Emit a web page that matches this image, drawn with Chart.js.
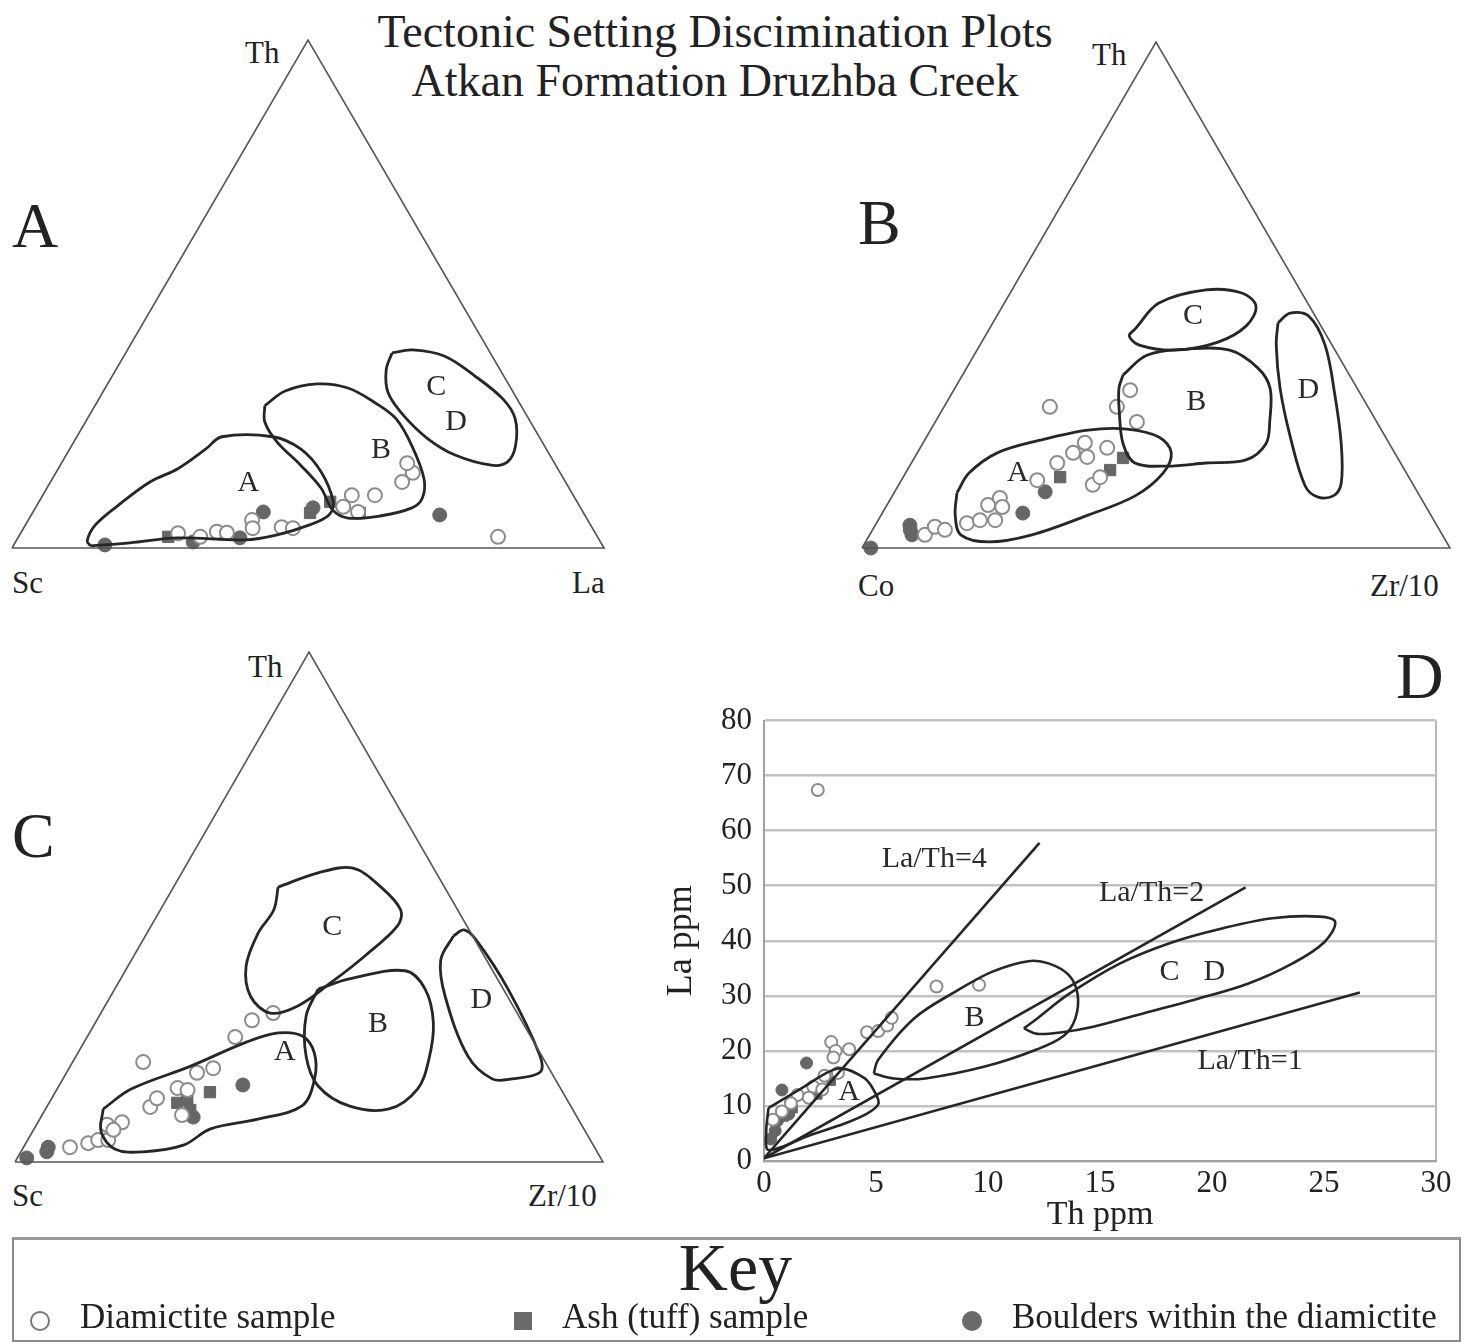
<!DOCTYPE html>
<html>
<head>
<meta charset="utf-8">
<script src="https://cdn.jsdelivr.net/npm/chart.js@4.4.1/dist/chart.umd.min.js"></script>
<style>
  body { margin: 0; background: #fff; width: 1471px; height: 1343px; position: relative; overflow: hidden;
         font-family: "Liberation Serif", "DejaVu Serif", serif; color: #222; }
  .t { position: absolute; line-height: 1; white-space: nowrap; }
  canvas { position: absolute; }
  .key { position: absolute; left: 12px; top: 1237px; width: 1445px; height: 100px;
         border: 2px solid #8a8a8a; border-top: 3px solid #9a9a9a; }
  .mk { position: absolute; box-sizing: border-box; }
</style>
</head>
<body>
<div class="t" style="left:0;width:1430px;text-align:center;top:9px;font-size:46px">Tectonic Setting Discimination Plots</div>
<div class="t" style="left:0;width:1430px;text-align:center;top:58px;font-size:46px">Atkan Formation Druzhba Creek</div>

<div class="t" style="left:12px;top:194px;font-size:64px">A</div>
<div class="t" style="left:858px;top:191px;font-size:64px">B</div>
<div class="t" style="left:12px;top:804px;font-size:64px">C</div>
<div class="t" style="left:1396px;top:643px;font-size:66px">D</div>

<div class="t" style="left:245px;top:37px;font-size:31px">Th</div>
<div class="t" style="left:12px;top:567px;font-size:31px">Sc</div>
<div class="t" style="left:572px;top:567px;font-size:31px">La</div>

<div class="t" style="left:1092px;top:39px;font-size:31px">Th</div>
<div class="t" style="left:858px;top:570px;font-size:31px">Co</div>
<div class="t" style="left:1370px;top:570px;font-size:31px">Zr/10</div>

<div class="t" style="left:248px;top:651px;font-size:31px">Th</div>
<div class="t" style="left:12px;top:1180px;font-size:31px">Sc</div>
<div class="t" style="left:528px;top:1180px;font-size:31px">Zr/10</div>

<canvas id="triA" width="616" height="532" style="left:0;top:28px"></canvas>
<canvas id="triB" width="612" height="530" style="left:850px;top:30px"></canvas>
<canvas id="triC" width="612" height="534" style="left:3px;top:640px"></canvas>
<canvas id="plotD" width="800" height="545" style="left:660px;top:690px"></canvas>

<div class="key"></div>
<div class="t" style="left:0;width:1471px;text-align:center;top:1233px;font-size:68px">Key</div>
<div class="mk" style="left:30px;top:1311px;width:20px;height:20px;border:2px solid #777;border-radius:50%"></div>
<div class="t" style="left:80px;top:1299px;font-size:35px">Diamictite sample</div>
<div class="mk" style="left:514px;top:1312px;width:18px;height:18px;background:#6a6a6a"></div>
<div class="t" style="left:562px;top:1299px;font-size:35px">Ash (tuff) sample</div>
<div class="mk" style="left:962px;top:1311px;width:20px;height:20px;background:#6a6a6a;border-radius:50%"></div>
<div class="t" style="left:1012px;top:1299px;font-size:35px">Boulders within the diamictite</div>

<script>
// ---- Panel A: Th - Sc - La ternary, pairs are [Th, La] in %, Sc = 100 - Th - La
const A_DIAMICTITE = [[2.9, 26.6], [2.2, 30.7], [3.2, 33.0], [3.0, 34.8], [5.5, 37.8], [3.9, 38.7],
  [4.1, 43.5], [3.9, 45.5], [8.1, 51.9], [10.4, 52.2], [7.1, 54.9], [10.4, 56.1], [13.0, 59.4],
  [14.8, 60.3], [16.7, 58.4], [2.2, 81.0]];
const A_ASH = [[2.2, 25.3], [6.9, 46.9], [9.1, 49.2], [6.9, 55.3]];
const A_BOULDER = [[0.6, 15.4], [1.2, 30.0], [2.0, 37.5], [7.1, 38.9], [7.9, 46.9], [6.5, 69.0]];

const A_FIELD_A = [[0.4, 13.1], [1.4, 12.0], [4.5, 11.8], [8.5, 13.8], [13.0, 16.8], [15.6, 20.2],
  [19.5, 23.0], [21.9, 24.5], [21.9, 33.1], [19.5, 39.0], [15.0, 44.7], [9.1, 49.7], [6.5, 50.3],
  [4.5, 47.9], [2.6, 43.5], [1.6, 38.6], [2.0, 27.0], [1.0, 19.4]];
const A_FIELD_B = [[28.0, 28.7], [30.9, 30.7], [32.3, 35.4], [31.5, 41.0], [28.5, 47.2], [25.4, 52.2],
  [20.1, 57.5], [13.6, 62.8], [9.8, 64.4], [7.9, 63.6], [6.3, 59.0], [5.9, 53.8], [7.5, 50.4],
  [11.8, 46.3], [16.3, 40.6], [20.9, 34.3], [24.8, 30.3]];
const A_FIELD_CD = [[38.4, 45.0], [39.0, 48.1], [37.8, 54.1], [33.9, 61.2], [29.3, 68.3], [25.4, 72.3],
  [20.1, 75.0], [16.9, 75.2], [16.3, 72.8], [18.3, 65.7], [21.5, 59.5], [26.0, 53.2], [30.5, 48.3],
  [35.0, 45.7]];
const A_LABELS = [["A", 12.8, 33.5], ["B", 19.3, 52.7], ["C", 31.7, 55.8], ["D", 24.8, 62.6]];

// ---- Panel B: Th - Co - Zr/10 ternary, pairs are [Th, Zr/10]
const B_DIAMICTITE = [[2.6, 9.4], [4.2, 10.3], [3.6, 12.3], [4.9, 15.4], [5.5, 17.3], [5.5, 19.9],
  [8.5, 17.2], [9.9, 18.5], [8.1, 19.8], [13.4, 23.1], [16.8, 24.8], [18.8, 26.5], [20.8, 27.5],
  [18.0, 29.3], [12.5, 33.0], [14.0, 33.5], [19.8, 31.8], [24.9, 34.3], [27.9, 29.4], [31.2, 30.0],
  [27.9, 18.0]];
const B_ASH = [[14.0, 26.7], [15.4, 34.5], [17.8, 35.5]];
const B_BOULDER = [[0, 1.5], [4.5, 5.9], [2.6, 7.2], [3.6, 6.4], [6.9, 23.9], [11.1, 25.6]];

const B_FIELD_A = [[10.9, 10.7], [14.8, 10.8], [18.8, 13.6], [21.3, 19.6], [23.3, 26.8], [23.5, 33.3],
  [21.9, 39.6], [18.8, 43.2], [14.8, 43.8], [10.3, 41.3], [6.5, 35.2], [2.6, 27.6], [1.2, 21.0],
  [2.6, 15.5], [6.5, 12.6]];
const B_FIELD_B = [[34.2, 27.3], [38.1, 29.4], [39.3, 35.6], [39.1, 43.0], [35.6, 49.5], [31.6, 53.6],
  [25.1, 56.8], [20.6, 58.4], [17.4, 56.6], [16.8, 50.1], [16.2, 43.8], [16.8, 38.0], [20.6, 34.1],
  [27.1, 30.2], [31.6, 27.9]];
const B_FIELD_C = [[43.3, 24.8], [48.4, 26.3], [51.0, 33.0], [50.4, 39.4], [47.8, 43.1], [43.9, 43.4],
  [40.7, 40.2], [39.1, 33.7], [40.1, 27.1], [41.9, 24.5]];
const B_FIELD_D = [[44.5, 48.5], [46.4, 49.6], [45.8, 53.1], [40.1, 58.7], [30.4, 65.2], [20.6, 71.2],
  [12.8, 75.1], [10.3, 75.0], [10.1, 72.4], [12.3, 69.2], [21.9, 61.9], [31.6, 55.3], [40.1, 50.4]];
const B_LABELS = [["A", 14.8, 19.1], ["B", 28.9, 42.4], ["C", 45.8, 33.4], ["D", 31.2, 60.3]];

// ---- Panel C: Th - Sc - Zr/10 ternary, pairs are [Th, Zr/10]
const C_DIAMICTITE = [[2.9, 7.9], [3.7, 10.6], [4.3, 12.0], [4.3, 13.7], [7.3, 12.0], [7.8, 14.3],
  [6.3, 13.6], [19.6, 12.0], [10.8, 17.6], [12.5, 17.9], [14.5, 20.4], [14.1, 22.3], [17.5, 22.2],
  [18.4, 24.5], [9.2, 23.8], [24.5, 25.2], [27.8, 26.4], [29.2, 29.3]];
const C_ASH = [[11.6, 21.8], [12.2, 23.2], [13.7, 26.3], [10.2, 24.7]];
const C_BOULDER = [[0.8, 1.6], [2.9, 4.2], [2.0, 4.4], [8.8, 25.9], [15.1, 31.2]];

const C_FIELD_A = [[10.4, 9.8], [14.3, 12.6], [18.8, 20.5], [23.5, 27.6], [25.3, 32.1], [24.7, 36.5],
  [21.4, 40.2], [16.3, 42.8], [11.0, 43.3], [8.4, 37.1], [6.5, 30.0], [3.3, 27.0], [2.0, 20.8],
  [2.5, 15.8], [5.9, 11.7]];
const C_FIELD_B = [[33.9, 34.6], [35.9, 38.9], [37.5, 47.6], [33.9, 52.8], [27.3, 57.5], [20.2, 60.3],
  [14.3, 61.3], [10.4, 58.4], [11.0, 51.3], [14.9, 44.1], [20.8, 39.1], [28.6, 35.2]];
const C_FIELD_C = [[53.9, 17.8], [56.7, 23.2], [57.6, 28.7], [53.9, 35.3], [49.4, 40.9], [46.3, 41.9],
  [40.4, 39.3], [35.1, 36.1], [30.6, 32.8], [29.2, 28.8], [32.5, 23.8], [38.4, 20.1], [44.9, 18.9],
  [49.4, 19.3]];
const C_FIELD_D = [[44.3, 52.4], [45.5, 53.6], [43.5, 56.7], [33.9, 66.9], [20.8, 78.9], [17.6, 80.5],
  [16.3, 76.4], [16.3, 73.0], [20.8, 66.6], [32.5, 56.9], [39.6, 52.6]];
const C_LABELS = [["A", 21.6, 35.1], ["B", 27.1, 48.2], ["C", 46.1, 30.9], ["D", 31.8, 63.4]];

// ---- Panel D: La vs Th (ppm), pairs are [Th, La]
const D_DIAMICTITE = [[2.4, 67.4], [7.7, 31.7], [9.6, 32.0], [4.6, 23.4], [5.1, 23.6], [5.5, 24.6],
  [3.0, 21.6], [3.2, 20.0], [3.8, 20.3], [3.1, 18.8], [5.7, 26.0], [2.7, 15.5], [2.2, 13.5],
  [1.5, 12.0], [1.2, 10.5], [0.8, 9.0], [0.4, 7.5], [2.0, 11.5], [2.6, 13.0], [3.3, 16.0]];
const D_ASH = [[1.3, 9.5], [2.4, 12.0], [3.0, 14.5], [0.9, 8.0]];
const D_BOULDER = [[1.9, 17.8], [0.8, 12.9], [0.6, 7.3], [1.1, 8.5], [0.5, 5.5], [0.3, 4.0]];

const D_LINE_4 = [[0, 0.5], [12.3, 57.8]];
const D_LINE_2 = [[0, 0.5], [21.5, 49.7]];
const D_LINE_1 = [[0, 0.5], [26.6, 30.6]];
const D_FIELD_A = [[0.2, 9.6], [1.6, 13.0], [3.3, 16.8], [4.5, 15.0], [5.0, 12.1], [5.1, 10.3],
  [4.6, 8.6], [3.6, 6.8], [2.0, 4.6], [0.2, 2.0], [0.1, 5.5]];
const D_FIELD_B = [[4.9, 15.9], [5.1, 18.4], [6.7, 25.9], [8.6, 30.9], [10.2, 34.4], [11.8, 36.3],
  [12.7, 35.9], [13.6, 33.8], [14.0, 30.3], [13.9, 25.9], [13.4, 22.8], [12.2, 20.3], [9.9, 17.2],
  [7.2, 15.0], [5.8, 15.0]];
const D_FIELD_CD = [[11.6, 24.1], [12.2, 25.9], [13.6, 30.3], [15.9, 35.9], [18.2, 39.7], [20.4, 42.2],
  [22.7, 44.1], [24.8, 44.4], [25.5, 43.4], [25.0, 39.7], [23.6, 35.9], [21.6, 32.2], [19.3, 29.4],
  [17.0, 26.9], [14.7, 24.4], [13.3, 23.4], [12.2, 23.1]];
const D_LABELS = [["La/Th=4", 7.6, 54.8], ["La/Th=2", 17.3, 48.6], ["La/Th=1", 21.7, 18.2],
  ["A", 3.8, 12.5], ["B", 9.4, 26.0], ["C", 18.1, 34.3], ["D", 20.1, 34.3]];

const FONT = '"Liberation Serif", "DejaVu Serif", serif';
const OUTLINE = "#262626";
const OPEN_EDGE = "#8c8c8c";
const FILL_GREY = "#666666";

// ternary [Th, right] -> plotting x/y on an equilateral triangle (Th = height)
const tern = ([th, r]) => ({ x: r + th / 2, y: th });
const loop = (pts) => [...pts, pts[0]];

// draws text items at data positions
const areaText = {
  id: "areaText",
  afterDatasetsDraw(chart, args, opts) {
    const { ctx, scales } = chart;
    ctx.save();
    ctx.font = opts.font;
    ctx.fillStyle = "#2a2a2a";
    ctx.textAlign = "center";
    ctx.textBaseline = "middle";
    opts.items.forEach((it) => {
      ctx.fillText(it.text, scales.x.getPixelForValue(it.x), scales.y.getPixelForValue(it.y));
    });
    ctx.restore();
  },
};

function sampleSets(diam, ash, boulder, map) {
  return [
    { data: diam.map(map), pointStyle: "circle", pointRadius: 7, pointBackgroundColor: "#fff",
      pointBorderColor: OPEN_EDGE, pointBorderWidth: 2, clip: false },
    { data: ash.map(map), pointStyle: "rect", pointRadius: 8, pointBackgroundColor: FILL_GREY,
      pointBorderColor: FILL_GREY, pointBorderWidth: 1, clip: false },
    { data: boulder.map(map), pointStyle: "circle", pointRadius: 7, pointBackgroundColor: FILL_GREY,
      pointBorderColor: FILL_GREY, pointBorderWidth: 1, clip: false },
  ];
}

function outlineSet(pts, map, width, tension) {
  return { data: loop(pts).map(map), showLine: true, borderColor: OUTLINE, borderWidth: width,
    tension: tension, pointRadius: 0, fill: false, clip: false };
}

function ternaryChart(id, fields, diam, ash, boulder, labels) {
  const frame = { data: loop([[0, 0], [0, 100], [100, 0]]).map(tern), showLine: true,
    borderColor: "#555", borderWidth: 1.6, tension: 0, pointRadius: 0, clip: false };
  return new Chart(document.getElementById(id), {
    type: "scatter",
    data: {
      datasets: [frame, ...fields.map((f) => outlineSet(f, tern, 2.8, 0.35)),
        ...sampleSets(diam, ash, boulder, tern)],
    },
    options: {
      responsive: false,
      animation: false,
      events: [],
      layout: { padding: 12 },
      scales: {
        x: { type: "linear", min: 0, max: 100, display: false },
        y: { type: "linear", min: 0, max: 100, display: false },
      },
      plugins: {
        legend: { display: false },
        tooltip: { enabled: false },
        areaText: { font: `30px ${FONT}`,
          items: labels.map(([text, th, r]) => ({ text, ...tern([th, r]) })) },
      },
    },
    plugins: [areaText],
  });
}

ternaryChart("triA", [A_FIELD_A, A_FIELD_B, A_FIELD_CD], A_DIAMICTITE, A_ASH, A_BOULDER, A_LABELS);
ternaryChart("triB", [B_FIELD_A, B_FIELD_B, B_FIELD_C, B_FIELD_D], B_DIAMICTITE, B_ASH, B_BOULDER, B_LABELS);
ternaryChart("triC", [C_FIELD_A, C_FIELD_B, C_FIELD_C, C_FIELD_D], C_DIAMICTITE, C_ASH, C_BOULDER, C_LABELS);

// ---- Panel D
const xy = ([th, la]) => ({ x: th, y: la });
const lineSet = (pts) => ({ data: pts.map(xy), showLine: true, borderColor: OUTLINE, borderWidth: 2.6,
  pointRadius: 0, tension: 0 });
const dSamples = sampleSets(D_DIAMICTITE, D_ASH, D_BOULDER, xy).map((d) => ({ ...d, pointRadius: 6 }));

new Chart(document.getElementById("plotD"), {
  type: "scatter",
  data: {
    datasets: [lineSet(D_LINE_4), lineSet(D_LINE_2), lineSet(D_LINE_1),
      outlineSet(D_FIELD_A, xy, 2.6, 0.3), outlineSet(D_FIELD_B, xy, 2.6, 0.35),
      outlineSet(D_FIELD_CD, xy, 2.6, 0.35), ...dSamples],
  },
  options: {
    responsive: false,
    animation: false,
    events: [],
    layout: { padding: { top: 22, right: 24, left: 0, bottom: 0 } },
    scales: {
      x: {
        type: "linear", min: 0, max: 30,
        ticks: { stepSize: 5, color: "#222", font: { family: FONT, size: 31 }, padding: 4 },
        grid: { drawTicks: false, lineWidth: 2,
          color: (c) => (c.tick && c.tick.value === 30 ? "#b8b8b8" : "rgba(0,0,0,0)") },
        border: { color: "#a0a0a0", width: 2 },
        title: { display: true, text: "Th ppm", color: "#222", font: { family: FONT, size: 34 },
          padding: 0 },
        afterFit: (s) => { s.height = 74; },
      },
      y: {
        type: "linear", min: 0, max: 80,
        ticks: { stepSize: 10, color: "#222", font: { family: FONT, size: 31 }, padding: 12 },
        grid: { drawTicks: false, lineWidth: 2.5, color: "#c2c2c2" },
        border: { color: "#a0a0a0", width: 2 },
        title: { display: true, text: "La ppm", color: "#222", font: { family: FONT, size: 36 },
          padding: 0 },
        afterFit: (s) => { s.width = 104; },
      },
    },
    plugins: {
      legend: { display: false },
      tooltip: { enabled: false },
      areaText: { font: `30px ${FONT}`,
        items: D_LABELS.map(([text, x, y]) => ({ text, x, y })) },
    },
  },
  plugins: [areaText],
});
</script>
</body>
</html>
